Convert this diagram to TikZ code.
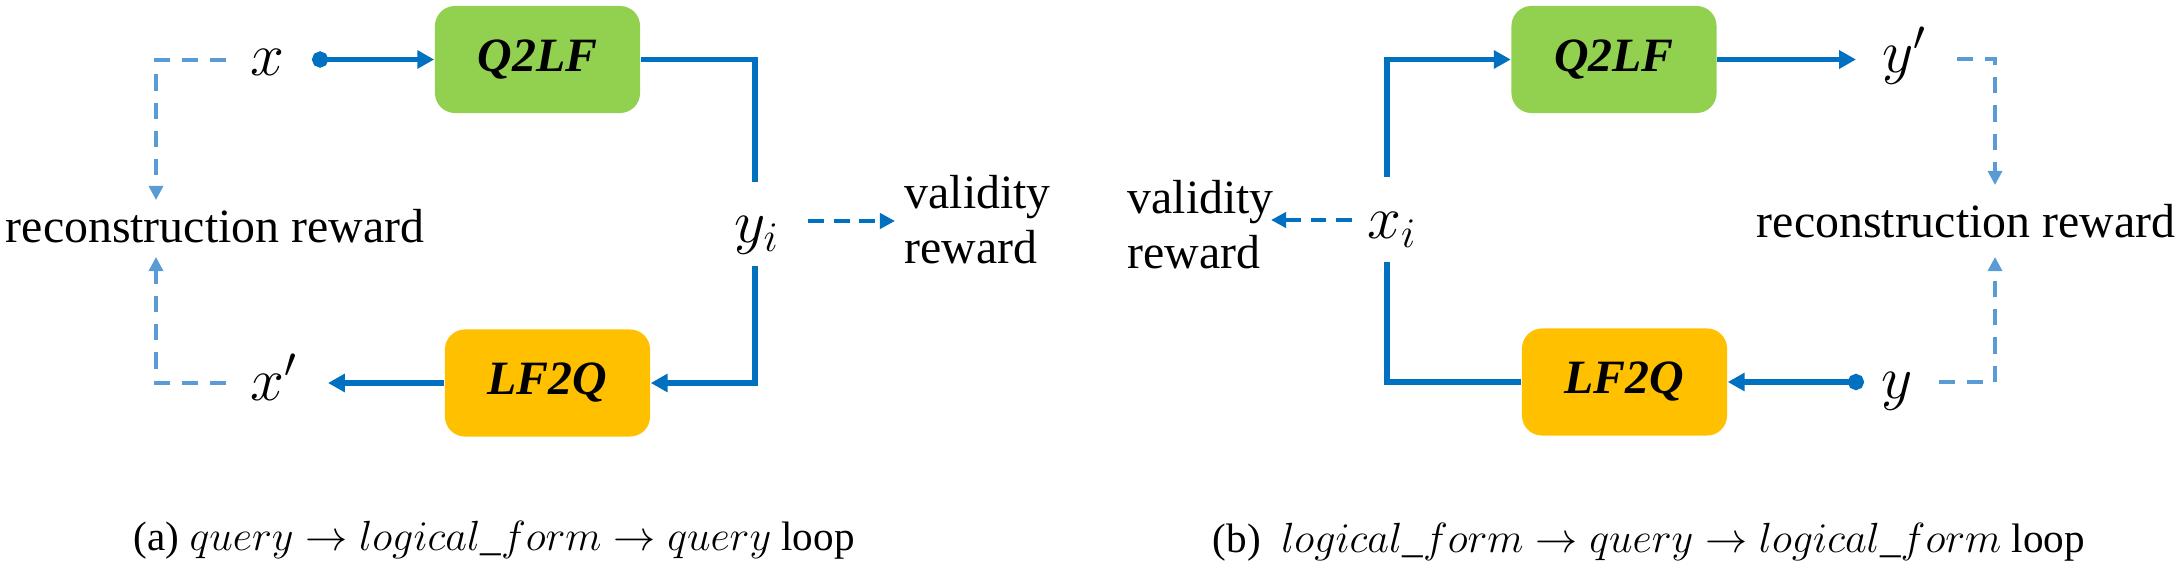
\documentclass[tikz,border=0pt]{standalone}
\usepackage{fontspec}
\setmainfont{Liberation Serif}
\usetikzlibrary{arrows.meta}
\definecolor{qgreen}{HTML}{92D050}
\definecolor{lforange}{HTML}{FFC000}
\definecolor{flowblue}{HTML}{0070C0}
\definecolor{recblue}{HTML}{5B9BD5}
\begin{document}
\begin{tikzpicture}[x=0.01cm,y=-0.01cm,
  modelbox/.style={rounded corners=0.2cm, minimum width=2.05cm, minimum height=1.07cm, inner sep=0pt, font=\fontsize{13.6}{16}\selectfont\bfseries\itshape},
  lbl/.style={inner sep=0pt, font=\fontsize{13.6}{15.6}\selectfont},
  var/.style={inner sep=0pt, font=\fontsize{16.5}{18}\selectfont, anchor=base},
  flow/.style={draw=flowblue, line width=1.45pt},
  flowarrow/.style={flow, -{Triangle[length=4.8pt,width=5pt]}},
  dotarrow/.style={flow, {Circle[length=4.6pt]}-{Triangle[length=4.8pt,width=5pt]}},
  valarrow/.style={draw=flowblue, line width=1.15pt, dash pattern=on 4.5pt off 2.8pt, -{Triangle[length=4.3pt,width=4.3pt]}},
  recarrow/.style={draw=recblue, line width=0.9pt, dash pattern=on 4.6pt off 3.4pt, -{Triangle[length=4pt,width=4pt]}},
  captext/.style={inner sep=0pt, anchor=base west, font=\fontsize{11.7}{14}\selectfont}
]
\useasboundingbox (0,0) rectangle (2180,570);
% ---------- panel (a)
\node[modelbox, fill=qgreen] (q2lfA) at (537.5,59.5) {Q2LF};
\node[modelbox, fill=lforange] (lf2qA) at (547.5,383) {LF2Q};
\node[var] (xA) at (267,76) {$x$};
\node[var] (xpA) at (274,400) {$x'$};
\node[var] (yiA) at (757,242) {$y_i$};
\node[lbl, anchor=base] (recA) at (215,242) {reconstruction reward};
\node[lbl, align=left, anchor=north west] (valA) at (904,175) {validity\\reward};
\coordinate (xAdot) at (312,59.5);
\coordinate (yiAtop) at (755,182);
\coordinate (yiAbot) at (755,266);
\coordinate (xpAend) at (328,383);
\coordinate (recAtop0) at (226,60);
\coordinate (recAtop1) at (156,200);
\coordinate (recAbot0) at (226,383);
\coordinate (recAbot1) at (156,257);
\coordinate (valA0) at (808,221);
\coordinate (valA1) at (895,221);
\draw[dotarrow] (xAdot) -- (q2lfA.west);
\draw[flow] (q2lfA.east) -| (yiAtop);
\draw[flowarrow] (yiAbot) |- (lf2qA.east);
\draw[flowarrow] (lf2qA.west) -- (xpAend);
\draw[recarrow] (recAtop0) -| (recAtop1);
\draw[recarrow] (recAbot0) -| (recAbot1);
\draw[valarrow] (valA0) -- (valA1);
% ---------- panel (b)
\node[modelbox, fill=qgreen] (q2lfB) at (1614,59.5) {Q2LF};
\node[modelbox, fill=lforange] (lf2qB) at (1624.5,382) {LF2Q};
\node[var] (xiB) at (1392,238) {$x_i$};
\node[var] (ypB) at (1905,73) {$y'$};
\node[var] (yB) at (1897,398) {$y$};
\node[lbl, anchor=base] (recB) at (1966,237) {reconstruction reward};
\node[lbl, align=left, anchor=north west] (valB) at (1127,180) {validity\\reward};
\coordinate (xiBtop) at (1387,177);
\coordinate (xiBbot) at (1387,262);
\coordinate (ypBend) at (1856,59.5);
\coordinate (yBdot) at (1864,382);
\coordinate (recBtop0) at (1957,59);
\coordinate (recBtop1) at (1995,185);
\coordinate (recBbot0) at (1939,382);
\coordinate (recBbot1) at (1995,257);
\coordinate (valB0) at (1352,220);
\coordinate (valB1) at (1271,220);
\draw[flowarrow] (xiBtop) |- (q2lfB.west);
\draw[flow] (xiBbot) |- (lf2qB.west);
\draw[flowarrow] (q2lfB.east) -- (ypBend);
\draw[dotarrow] (yBdot) -- (lf2qB.east);
\draw[recarrow] (recBtop0) -| (recBtop1);
\draw[recarrow] (recBbot0) -| (recBbot1);
\draw[valarrow] (valB0) -- (valB1);
% ---------- captions
\node[captext] (capA) at (133,550) {(a) $query \rightarrow logical\_form \rightarrow query$ loop};
\node[captext] (capB) at (1212,552) {(b)\ \ $logical\_form \rightarrow query \rightarrow logical\_form$ loop};
\end{tikzpicture}
\end{document}
